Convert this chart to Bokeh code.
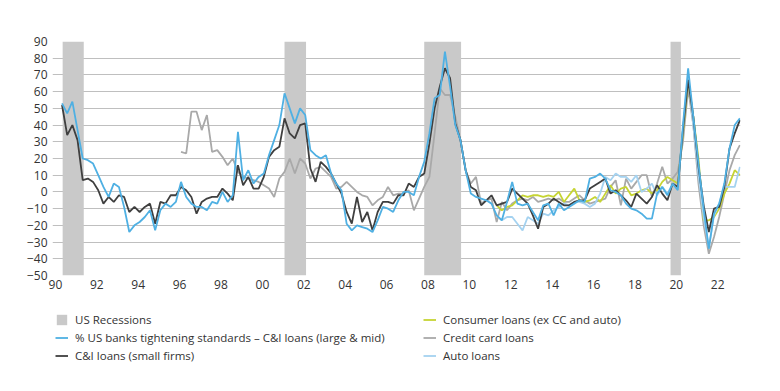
from bokeh.plotting import figure
from bokeh.models import Legend, LegendItem, FixedTicker, ColumnDataSource
from bokeh.layouts import column
from bokeh.embed import file_html
from bokeh.resources import INLINE
import numpy as np

# ---- data (quarterly, first quarter 1990Q2) ----
first_year, first_q = 1990, 2
n_quarters = 132

ci_large_mid = [53, 47, 54, 37, 20, 19, 17, 10, 3, -3,
                5, 3, -9, -24, -20, -18, -15, -11, -23, -11,
                -7, -9, -6, 6, -3, -7, -9, -9, -11, -6,
                -7, 0, -6, -2, 36, 7, 13, 5, 9, 11,
                22, 31, 40, 59, 50, 41, 50, 46, 25, 22,
                20, 22, 11, 5, 1, -19, -23, -20, -21, -22,
                -24, -17, -9, -10, -12, -5, 0, 0, -2, 9,
                18, 35, 56, 58, 84, 63, 40, 31, 13, -1,
                -3, -4, -5, -7, -14, -17, -6, 6, -7, -8,
                -7, -12, -17, -8, -7, -14, -7, -11, -9, -7,
                -5, -6, 8, 9, 11, 8, 1, 0, -2, -7,
                -10, -11, -13, -16, -16, -1, 3, -2, 5, 1,
                40, 74, 45, 17, -10, -34, -13, -7, 5, 26, 40, 44]

ci_small = [52, 34, 40, 31, 7, 8, 6, 1, -7, -3,
            -6, -2, -3, -12, -9, -12, -9, -7, -19, -6,
            -7, -2, -2, 3, 1, -3, -13, -6, -4, -3,
            -3, 2, -1, -5, 16, 4, 9, 2, 2, 9,
            21, 25, 27, 44, 35, 32, 40, 41, 14, 6,
            18, 15, 11, 5, -1, -12, -19, -3, -18, -12,
            -23, -12, -6, -6, -7, -2, -2, 5, 3, 9,
            11, 29, 50, 63, 74, 68, 41, 31, 13, 3,
            1, -8, -5, -2, -8, -7, -6, 2, -1, -4,
            -7, -14, -22, -9, -7, -4, -6, -8, -8, -6,
            -5, -5, 2, 4, 6, 8, -1, 1, -2, -5,
            -9, -1, -4, -7, -3, 4, -1, -5, 5, 3,
            37, 67, 45, 15, -8, -24, -10, -9, 3, 26, 35, 43]

# credit card loans start 1996Q1 (quarter index 23)
credit_card_start = 23
credit_card = [24, 23, 48, 48, 37, 46, 24, 25, 21, 16, 20,
               12, 9, 8, 7, 6, 4, 2, -3, 8,
               12, 20, 11, 20, 17,
               8, 14, 15, 12, 9, 2, 3, 6, 3, 0, -2, -3, -8, -5, -3, 3, -2,
               -1, -1, 1, -11, -4, 3, 9, 35, 62, 58, 58, 45, 31, 13, 5, 9,
               -7, -5, -4, -18, -6, -11, -7,
               -5, -4, -5, -3, -6, -5, -4, -5, -4, -6, -6, -4, -2, -5, -7,
               -6, -5, -4, 3, 7, -8, 8,
               2, 6, 10, 10, -3, 5, 15, 5, 8, 12,
               30, 62, 40, 5, -20, -37, -27, -15, -1, 13, 22, 28]

# consumer (ex CC and auto) and auto loans start 2011Q2 (quarter index 84)
consumer_start = 84
consumer = [-8, -11, -9, -8,
            -5, -2, -3, -2, -2, -3, -2, -3, 0, -6, -2, 2, -5, -6, -5, -3,
            -6, -1, 4, -1, 2,
            3, -2, -1, 1, 2, -1, 1, 6, 9, 7, 5,
            35, 66, 45, 20, -17, -17, -15, -10, -1, 5, 13, 10]

auto_start = 84
auto = [-14, -17, -15, -15,
        -19, -23, -15, -17, -19, -13, -14, -11, -9, -7, -8, -6, -6, -7,
        -9, -7, -1, 9, 7, 11, 9, 9,
        6, 10, 0, 2, 5, -2, 3, -1, 5, 2,
        38, 70, 40, 10, -15, -33, -14, -7, 3, 3, 3, 15]

recession_start = [1990.35, 2001.07, 2007.82, 2019.72]
recession_end = [1991.37, 2002.11, 2009.6, 2020.22]

tick_years = list(range(1990, 2023, 2))
tick_labels = [f"{y % 100:02d}" for y in tick_years]
y_ticks = list(range(-50, 91, 10))

legend_left = ["US Recessions",
               "% US banks tightening standards \u2013 C&I loans (large & mid)",
               "C&I loans (small firms)"]
legend_right = ["Consumer loans (ex CC and auto)", "Credit card loans", "Auto loans"]

C_REC, C_LARGE, C_SMALL = "#c9c9c9", "#4fb0e3", "#3f3f3f"
C_CONS, C_CC, C_AUTO = "#c6d433", "#a9a9a9", "#a4d2f0"
LW = 1.8
FONT = "Open Sans"
FS_TICK = "12px"
FS_LEG = "11.5px"

# quarter positions (survey month inside each quarter)
qx = np.array([first_year + (first_q - 1 + i) * 0.25 + 0.07 for i in range(n_quarters)])

def seg(vals, start):
    return ColumnDataSource(dict(x=qx[start:start + len(vals)], y=vals))

src_rec = ColumnDataSource(dict(left=recession_start, right=recession_end,
                                bottom=[-50] * len(recession_start),
                                top=[90] * len(recession_start)))
src_large = seg(ci_large_mid, 0)
src_small = seg(ci_small, 0)
src_cc = seg(credit_card, credit_card_start)
src_cons = seg(consumer, consumer_start)
src_auto = seg(auto, auto_start)

def draw(fig):
    r = {}
    r["rec"] = fig.quad(left="left", right="right", bottom="bottom", top="top",
                        source=src_rec, fill_color=C_REC, line_color=None)
    r["cc"] = fig.line("x", "y", source=src_cc, line_color=C_CC, line_width=LW)
    r["cons"] = fig.line("x", "y", source=src_cons, line_color=C_CONS, line_width=LW)
    r["auto"] = fig.line("x", "y", source=src_auto, line_color=C_AUTO, line_width=LW)
    r["small"] = fig.line("x", "y", source=src_small, line_color=C_SMALL, line_width=LW)
    r["large"] = fig.line("x", "y", source=src_large, line_color=C_LARGE, line_width=LW)
    return r

# ---- main chart ----
p = figure(frame_width=688, frame_height=234,
           min_border_left=52, min_border_right=36, min_border_top=41, min_border_bottom=25,
           x_range=(1989.86, 2023.1), y_range=(-50, 90),
           output_backend="svg", toolbar_location=None,
           background_fill_color="white", border_fill_color="white")
p.outline_line_color = None
p.xgrid.grid_line_color = None
p.ygrid.grid_line_color = "#bfbfbf"
p.ygrid.grid_line_width = 1
p.ygrid.ticker = FixedTicker(ticks=y_ticks)

p.yaxis.ticker = FixedTicker(ticks=y_ticks)
p.xaxis.ticker = FixedTicker(ticks=tick_years)
p.xaxis.major_label_overrides = {y: l for y, l in zip(tick_years, tick_labels)}
for ax in (p.xaxis, p.yaxis):
    ax.axis_line_color = None
    ax.major_tick_line_color = None
    ax.minor_tick_line_color = None
    ax.major_tick_in = 0
    ax.major_tick_out = 0
    ax.major_label_text_font = FONT
    ax.major_label_text_font_size = FS_TICK
    ax.major_label_text_color = "#333333"
p.xaxis.major_label_standoff = 4
p.yaxis.major_label_standoff = 5

draw(p)

# ---- legend strip (same series; its ranges keep the lines out of view) ----
lg = figure(frame_width=776, frame_height=91, min_border=0,
            x_range=(0, 1), y_range=(0, 1), x_axis_type=None, y_axis_type=None,
            output_backend="svg", toolbar_location=None)
lg.outline_line_color = None
lg.xgrid.visible = False
lg.ygrid.visible = False
sw = draw(lg)

def make_legend(labels, rends, loc):
    return Legend(items=[LegendItem(label=l, renderers=[r]) for l, r in zip(labels, rends)],
                  location=loc, orientation="vertical",
                  glyph_width=13, glyph_height=13, label_height=13,
                  label_standoff=7, spacing=3, padding=0, margin=0,
                  border_line_color=None, background_fill_alpha=0,
                  label_text_font=FONT, label_text_font_size=FS_LEG,
                  label_text_color="#333333")

lg.add_layout(make_legend(legend_left, [sw["rec"], sw["large"], sw["small"]], (55, 28)))
lg.add_layout(make_legend(legend_right, [sw["cons"], sw["cc"], sw["auto"]], (423, 28)))

open("out.html", "w").write(file_html(column(p, lg), INLINE))
